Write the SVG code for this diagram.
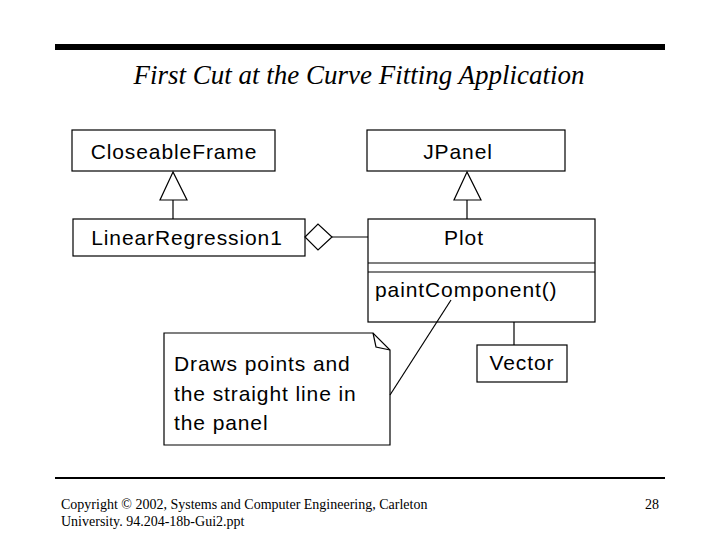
<svg xmlns="http://www.w3.org/2000/svg" width="720" height="540" viewBox="0 0 720 540">
<style>
.b{fill:#fff;stroke:#000;stroke-width:1.2}
.l{fill:none;stroke:#000;stroke-width:1.2}
.t{font-family:"Liberation Sans",Arial,sans-serif;font-size:21px;letter-spacing:0.9px;fill:#000}
.f{font-family:"Liberation Serif","Times New Roman",serif;font-size:14px;fill:#000}
</style>
<rect width="720" height="540" fill="#fff"/>
<rect x="55" y="44" width="610" height="6" fill="#000"/>
<text x="359" y="84" text-anchor="middle" font-family="Liberation Serif,serif" font-style="italic" font-size="27">First Cut at the Curve Fitting Application</text>
<g id="CloseableFrame"><rect class="b" x="72" y="130" width="203" height="41"/><text class="t" x="174" y="159" text-anchor="middle">CloseableFrame</text></g>
<g id="JPanel"><rect class="b" x="367" y="130" width="198" height="41"/><text class="t" x="458" y="159" text-anchor="middle">JPanel</text></g>
<g id="LinearRegression1"><rect class="b" x="73" y="219" width="232" height="37"/><text class="t" x="187" y="245" text-anchor="middle">LinearRegression1</text></g>
<g id="Plot"><rect class="b" x="368" y="219" width="227" height="103"/><line class="l" x1="368" y1="263" x2="595" y2="263"/><line class="l" x1="368" y1="272" x2="595" y2="272"/><text class="t" x="464" y="245" text-anchor="middle">Plot</text><text class="t" x="375" y="297">paintComponent()</text></g>
<g id="Vector"><rect class="b" x="477" y="345" width="90" height="37"/><text class="t" x="522" y="370" text-anchor="middle">Vector</text></g>
<g id="note"><polygon class="b" points="164,333 373,333 390,350 390,445 164,445"/><polyline class="l" points="373,333 376,347 390,350"/><text class="t" x="174" y="371">Draws points and</text><text class="t" x="174" y="401">the straight line in</text><text class="t" x="174" y="430">the panel</text></g>
<g id="connectors">
<polygon class="b" points="173,172 160,200 187,200"/>
<line class="l" x1="173" y1="200" x2="173" y2="219"/>
<polygon class="b" points="467,172 454,200 481,200"/>
<line class="l" x1="467" y1="200" x2="467" y2="219"/>
<polygon class="b" points="305,237 318,224 332,237 318,250"/>
<line class="l" x1="332" y1="237" x2="368" y2="237"/>
<line class="l" x1="514" y1="322" x2="514" y2="345"/>
<line class="l" x1="390" y1="395" x2="451" y2="300"/>
</g>
<rect x="55" y="477" width="610" height="2" fill="#000"/>
<text class="f" x="61" y="509">Copyright © 2002, Systems and Computer Engineering, Carleton</text>
<text class="f" x="61" y="526">University.  94.204-18b-Gui2.ppt</text>
<text class="f" x="659" y="509" text-anchor="end">28</text>
</svg>
